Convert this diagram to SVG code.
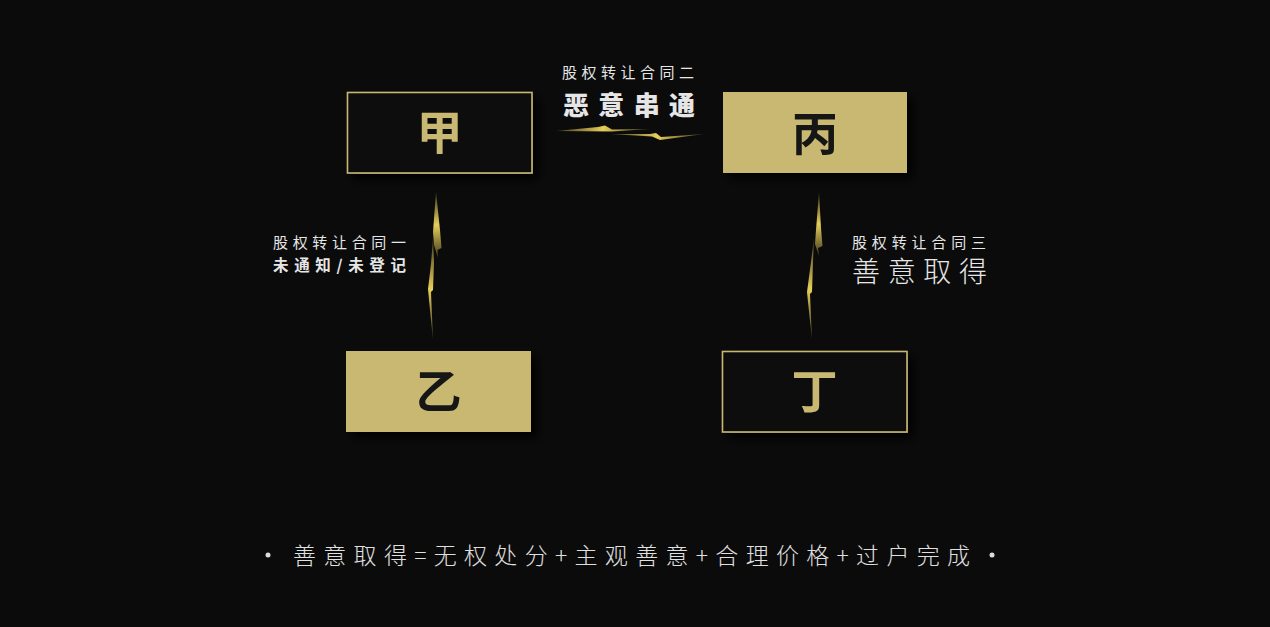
<svg xmlns="http://www.w3.org/2000/svg" width="1270" height="627" viewBox="0 0 1270 627">
<defs>
<style>
.cjk{font-family:"Noto Sans CJK SC","Noto Sans",sans-serif;}
.lbl{font-size:15px;fill:#e6e6e6;}
.big{font-size:46px;font-weight:700;text-anchor:middle;}
.box-o{fill:#0b0b0b;stroke:#c8b872;stroke-width:1.6;}
.box-f{fill:#c8b872;}
.bolt{fill:url(#gv);}
</style>
<filter id="sh" x="-20%" y="-30%" width="150%" height="170%">
<feGaussianBlur in="SourceAlpha" stdDeviation="5"/>
<feOffset dx="6" dy="6"/>
<feComponentTransfer><feFuncA type="linear" slope="0.9"/></feComponentTransfer>
<feMerge><feMergeNode/><feMergeNode in="SourceGraphic"/></feMerge>
</filter>
<linearGradient id="gh" x1="0" y1="0" x2="1" y2="0">
<stop offset="0" stop-color="#c8b050" stop-opacity="0.3"/>
<stop offset="0.5" stop-color="#e6cf5a"/>
<stop offset="1" stop-color="#c8b050" stop-opacity="0.3"/>
</linearGradient>
<linearGradient id="gv" x1="0" y1="0" x2="0" y2="1">
<stop offset="0" stop-color="#c8b050" stop-opacity="0.3"/>
<stop offset="0.5" stop-color="#e6cf5a"/>
<stop offset="1" stop-color="#c8b050" stop-opacity="0.3"/>
</linearGradient>
</defs>
<rect width="1270" height="627" fill="#0b0b0b"/>

<g id="connectors">
<polygon fill="url(#gh)" points="556,131 598,127 605,125.5 612,129.5 650,129 612,131.5"/>
<polygon fill="url(#gh)" points="610,134 650,134 656,133 661,137 704,134 660,140 652,136.5"/>
<polygon class="bolt" points="436,192 440,230 441.5,248 437.5,250 438,258 434,245 433,232"/>
<polygon class="bolt" points="433,238 434,262 433,290 431,292 433,340 429,300 428,289 431,264"/>
<polygon class="bolt" points="819,192 821,228 822.5,246 818,248 819,256 815,244 816,230"/>
<polygon class="bolt" points="814,238 813,262 812,292 810,294 812,340 808,302 807,292 811,262"/>
</g>

<g id="node-jia" filter="url(#sh)">
<rect class="box-o" x="347.5" y="92.5" width="184.5" height="80.5"/>
<text class="cjk big" x="439.5" y="149" fill="#c8b872">甲</text>
</g>
<g id="node-bing" filter="url(#sh)">
<rect class="box-f" x="723" y="92" width="184" height="81"/>
<text class="cjk big" x="815" y="150" fill="#141414">丙</text>
</g>
<g id="node-yi" filter="url(#sh)">
<rect class="box-f" x="346" y="351" width="185" height="81"/>
<text class="cjk big" x="438.5" y="408" fill="#141414">乙</text>
</g>
<g id="node-ding" filter="url(#sh)">
<rect class="box-o" x="722.5" y="351.5" width="184.5" height="80.5"/>
<text class="cjk big" x="814.5" y="408" fill="#c8b872">丁</text>
</g>

<g id="label-top" class="cjk">
<text class="lbl" x="562" y="78" textLength="132" lengthAdjust="spacing">股权转让合同二</text>
<text x="563" y="115" font-size="26" font-weight="900" fill="#e6e6e6" textLength="132" lengthAdjust="spacing">恶意串通</text>
</g>
<g id="label-left" class="cjk">
<text class="lbl" x="273" y="248" textLength="133" lengthAdjust="spacing">股权转让合同一</text>
<text x="273" y="271" font-size="15.5" font-weight="700" fill="#e6e6e6" textLength="133" lengthAdjust="spacing">未通知/未登记</text>
</g>
<g id="label-right" class="cjk">
<text class="lbl" x="852" y="248" textLength="134" lengthAdjust="spacing">股权转让合同三</text>
<text x="852" y="282" font-size="28" font-weight="300" fill="#e6e6e6" textLength="135" lengthAdjust="spacing">善意取得</text>
</g>

<g id="footer" class="cjk">
<circle cx="268" cy="555" r="2.5" fill="#dcdcdc"/>
<circle cx="992" cy="555" r="2.5" fill="#dcdcdc"/>
<text x="293" y="564" font-size="23" font-weight="300" fill="#e0e0e0" textLength="677" lengthAdjust="spacing">善意取得=无权处分+主观善意+合理价格+过户完成</text>
</g>
</svg>
